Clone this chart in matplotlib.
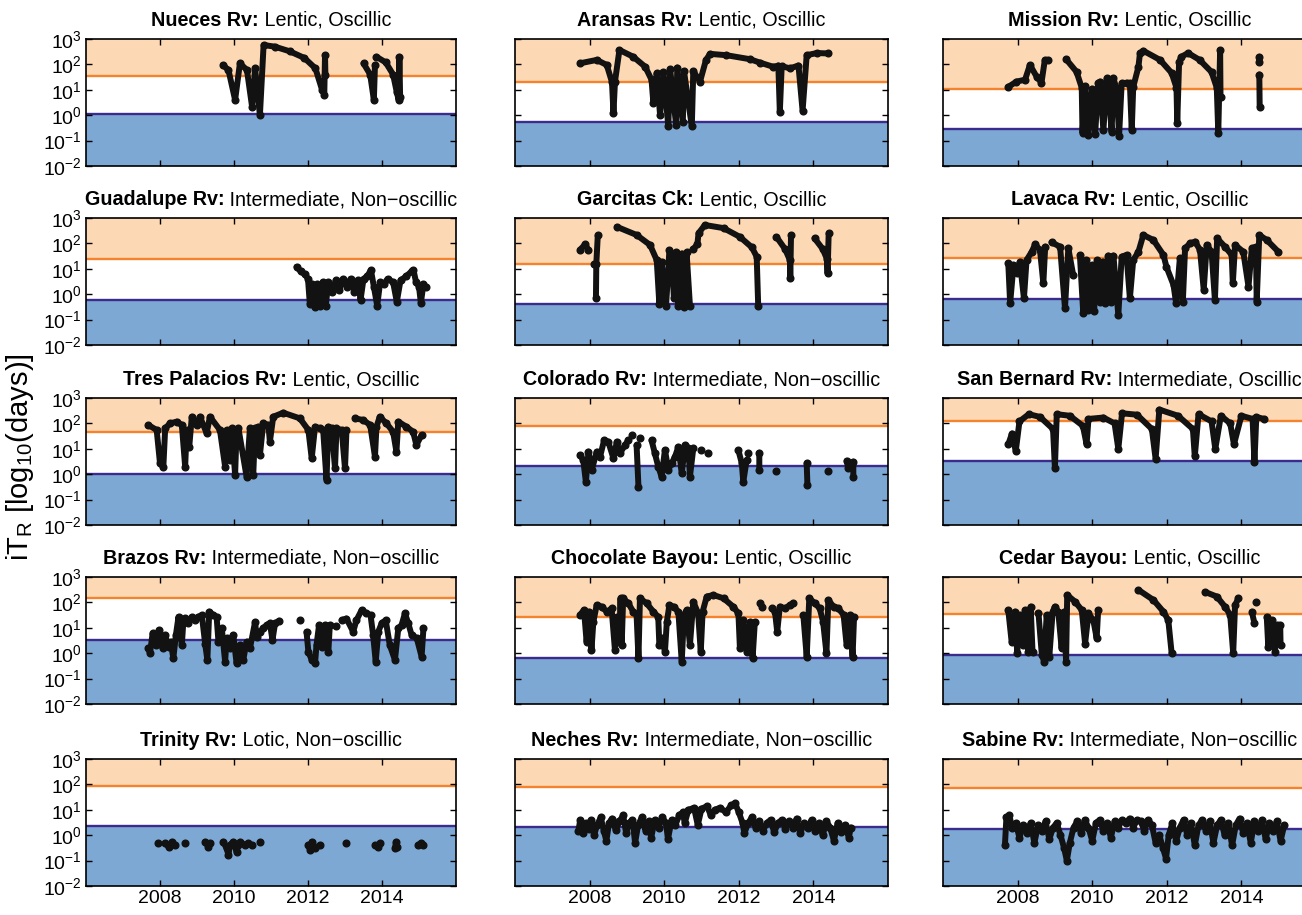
import numpy as np
import matplotlib
matplotlib.use('Agg')
import matplotlib.pyplot as plt
from matplotlib.transforms import offset_copy

plt.rcParams['font.family'] = 'Liberation Sans'
plt.rcParams['mathtext.fontset'] = 'custom'
plt.rcParams['mathtext.rm'] = 'Liberation Sans'
plt.rcParams['mathtext.it'] = 'Liberation Sans:italic'
plt.rcParams['mathtext.bf'] = 'Liberation Sans:bold'

nan = np.nan
GAP = (nan, nan)

# (year, iT_R in days)
nueces = [(2009.70, 95), (2009.85, 60), (2010.03, 4), (2010.16, 110), (2010.35, 60), (2010.49, 2.1),
          (2010.57, 70), (2010.70, 1.0), (2010.80, 580), (2011.10, 500), (2011.50, 330), (2011.90, 180),
          (2012.20, 70), (2012.38, 10), (2012.44, 6.5), (2012.46, 230), (2012.47, 40), GAP,
          (2013.50, 110), (2013.68, 40), (2013.78, 4), (2013.81, 95), GAP,
          (2013.85, 200), (2014.10, 120), (2014.30, 40), (2014.40, 8), (2014.45, 4), (2014.47, 200), (2014.49, 5)]

aransas = [(2007.74, 110), (2008.19, 150), (2008.46, 95), (2008.60, 20), (2008.64, 1.2), (2008.68, 21),
           (2008.80, 370), (2009.17, 200), (2009.49, 81), (2009.66, 25), (2009.71, 3), (2009.80, 46),
           (2009.89, 1), (2009.98, 50), (2010.11, 0.36), (2010.16, 64), (2010.32, 0.4), (2010.35, 75),
           (2010.50, 0.56), (2010.53, 55), (2010.74, 0.36), (2010.78, 55), (2010.96, 21), (2011.12, 150),
           (2011.23, 260), (2011.67, 230), (2012.30, 160), (2012.57, 117), (2012.93, 80), (2013.06, 90),
           (2013.10, 1.35), (2013.15, 85), (2013.37, 70), (2013.60, 90), (2013.71, 1.5), (2013.82, 230),
           (2014.09, 280), (2014.40, 270)]

mission = [(2007.75, 13), (2007.97, 21), (2008.20, 25), (2008.33, 95), (2008.51, 33), (2008.64, 19),
           (2008.73, 150), (2008.82, 150), GAP,
           (2009.30, 160), (2009.58, 51), (2009.72, 12), (2009.74, 0.2), (2009.81, 14), (2009.90, 0.17),
           (2009.99, 11), (2010.08, 0.19), (2010.16, 18), (2010.21, 21), (2010.30, 0.25), (2010.39, 28),
           (2010.43, 18), (2010.52, 0.22), (2010.57, 28), (2010.66, 10), (2010.72, 0.15), (2010.79, 18),
           (2010.92, 19), (2011.01, 18), (2011.06, 0.25), (2011.10, 13), (2011.24, 81), (2011.28, 275),
           (2011.37, 345), (2011.82, 150), (2012.13, 46), (2012.26, 12), (2012.28, 0.5), (2012.33, 125),
           (2012.39, 200), (2012.57, 280), (2012.88, 150), (2013.20, 50), (2013.34, 12), (2013.38, 0.2),
           (2013.43, 370), (2013.44, 5), GAP,
           (2014.48, 200), (2014.48, 120), GAP, (2014.48, 40), (2014.49, 2.2)]

guadalupe = [(2011.69, 12), (2011.80, 8), (2011.92, 6), (2012.00, 4), (2012.05, 0.4), (2012.10, 2.5),
             (2012.18, 0.3), (2012.25, 2.5), (2012.32, 0.35), (2012.40, 3), (2012.48, 0.35), (2012.55, 3),
             (2012.65, 1.2), (2012.75, 3.5), (2012.85, 1.5), (2012.95, 4), (2013.05, 2), (2013.15, 4),
             (2013.25, 1.2), (2013.35, 3.5), (2013.42, 0.6), (2013.50, 4), (2013.60, 5), (2013.70, 9),
             (2013.78, 2), (2013.87, 0.35), (2013.95, 3), (2014.05, 2.5), (2014.15, 4), (2014.30, 3),
             (2014.40, 0.5), (2014.50, 3.5), (2014.65, 5), (2014.80, 8), (2014.85, 9), (2014.92, 3),
             (2015.00, 2), (2015.05, 0.45), (2015.12, 2.5), (2015.18, 2)]

garcitas = [(2007.74, 55), (2007.88, 92), (2007.97, 55), GAP,
            (2008.12, 16), GAP, (2008.22, 210), (2008.18, 16), (2008.17, 0.7), GAP,
            (2008.73, 450), (2009.26, 215), (2009.62, 87), (2009.80, 22), (2009.87, 0.4), (2009.93, 19),
            (2010.05, 0.35), (2010.14, 55), (2010.20, 30), (2010.26, 0.69), (2010.32, 45), (2010.38, 0.35),
            (2010.47, 40), (2010.53, 0.3), (2010.60, 45), (2010.69, 0.35), GAP,
            (2010.78, 60), (2010.89, 92), (2010.92, 250), (2011.09, 530), (2011.59, 400), (2012.03, 180),
            (2012.35, 70), (2012.48, 30), (2012.52, 0.35), GAP,
            (2013.01, 180), (2013.24, 60), (2013.37, 22), (2013.38, 4.2), (2013.40, 215), GAP,
            (2014.03, 160), (2014.25, 60), (2014.36, 25), (2014.38, 6.6), (2014.41, 250)]

lavaca = [(2007.75, 16.5), (2007.80, 0.44), (2007.89, 14), (2007.98, 6.6), (2008.06, 19), (2008.17, 0.69),
          (2008.24, 22), (2008.38, 47), (2008.47, 92), (2008.60, 55), (2008.69, 2.7), (2008.74, 74), GAP,
          (2008.91, 110), (2009.14, 74), (2009.27, 0.28), (2009.36, 64), (2009.49, 5.7), GAP,
          (2009.67, 35), (2009.76, 0.18), (2009.83, 22), (2009.90, 0.24), (2009.99, 14), (2010.05, 0.21),
          (2010.14, 22), (2010.21, 0.51), (2010.28, 19), (2010.34, 0.44), (2010.43, 33), (2010.50, 0.51),
          (2010.57, 33), (2010.70, 0.15), (2010.79, 30), (2010.92, 35), (2011.01, 0.69), (2011.10, 22),
          (2011.24, 47), (2011.37, 214), (2011.64, 136), (2011.91, 35), (2011.99, 12), (2012.18, 2.3),
          (2012.25, 0.44), (2012.35, 26), (2012.43, 0.51), (2012.49, 64), (2012.62, 100), (2012.76, 117),
          (2012.89, 55), (2012.99, 1.5), (2013.07, 87), (2013.20, 47), (2013.29, 0.59), (2013.35, 158),
          (2013.56, 74), (2013.74, 35), (2013.77, 2.7), (2013.83, 87), (2014.05, 47), (2014.19, 2.0),
          (2014.28, 64), (2014.39, 74), (2014.41, 0.5), (2014.48, 214), (2014.68, 136), (2014.99, 47)]

tres_palacios = [(2007.68, 87), (2007.91, 55), (2008.00, 2.7), (2008.09, 1.9), (2008.14, 64), (2008.27, 100),
                 (2008.45, 117), (2008.59, 87), (2008.68, 2.0), (2008.72, 55), (2008.79, 12), (2008.86, 183),
                 (2008.99, 87), (2009.08, 183), (2009.26, 41), (2009.35, 183), (2009.62, 55), (2009.76, 2.0),
                 (2009.80, 55), (2009.89, 3.6), (2009.94, 64), (2010.03, 0.93), (2010.07, 55), (2010.12, 64),
                 (2010.34, 0.8), (2010.43, 64), (2010.52, 0.93), (2010.57, 64), (2010.66, 74), (2010.70, 5.7),
                 (2010.79, 100), (2010.93, 87), (2010.97, 19), (2011.06, 183), (2011.33, 263), (2011.78, 158),
                 (2012.01, 55), (2012.10, 4.2), (2012.19, 74), (2012.32, 64), (2012.41, 55), (2012.50, 0.6),
                 (2012.55, 74), (2012.64, 64), (2012.73, 1.7), (2012.77, 64), (2012.91, 55), (2013.00, 1.7),
                 (2013.04, 55), GAP,
                 (2013.27, 158), (2013.49, 136), (2013.68, 87), (2013.81, 4.9), (2013.85, 74), (2013.94, 183),
                 (2014.12, 100), (2014.30, 47), (2014.39, 7.7), (2014.44, 117), (2014.66, 74), (2014.84, 47),
                 (2014.93, 14), (2015.07, 35)]

colorado = [(2007.74, 5.7), (2007.83, 3.6), (2007.90, 0.5), (2007.97, 7.7), (2008.06, 1.5), (2008.19, 7.7),
            (2008.28, 4.9), (2008.39, 22), (2008.50, 19), (2008.64, 4.2), (2008.73, 19), (2008.81, 6.6),
            (2008.95, 14), (2009.04, 22), GAP, (2009.15, 35), GAP, (2009.26, 14), (2009.31, 0.32), GAP,
            (2009.35, 26), GAP,
            (2009.66, 22), (2009.75, 6.6), (2009.84, 2.0), (2009.93, 0.8), (2010.02, 9), (2010.11, 1.5),
            (2010.20, 2.7), (2010.29, 4.9), (2010.38, 12), (2010.47, 1.07), (2010.56, 14), (2010.65, 10.5),
            (2010.69, 0.8), (2010.78, 10.5), GAP, (2011.00, 9), GAP, (2011.18, 7), GAP,
            (2011.99, 8.6), (2012.08, 2.7), (2012.12, 0.5), (2012.21, 3.6), GAP, (2012.26, 7), GAP,
            (2012.55, 7), (2012.55, 1.5), GAP, (2013.01, 1.3), GAP, (2013.82, 2.7), (2013.84, 0.37), GAP,
            (2014.40, 1.3), GAP, (2014.89, 3.4), (2014.94, 1.7), (2015.07, 3.1), (2015.07, 0.8)]

san_bernard = [(2007.75, 15), (2007.85, 40), (2007.95, 8), (2008.05, 120), (2008.30, 230), (2008.60, 180),
               (2008.95, 60), (2009.00, 1.8), (2009.05, 230), (2009.40, 200), (2009.75, 80), (2009.85, 15),
               (2009.90, 150), (2010.30, 170), (2010.60, 100), (2010.70, 10), (2010.80, 250), (2011.20, 220),
               (2011.60, 60), (2011.70, 4), (2011.80, 350), (2012.30, 200), (2012.70, 60), (2012.75, 5),
               (2012.85, 230), (2013.20, 120), (2013.30, 10), (2013.45, 200), (2013.70, 100), (2013.80, 15),
               (2014.00, 200), (2014.30, 150), (2014.35, 3), (2014.40, 180), (2014.60, 150)]

brazos = [(2007.68, 1.55), (2007.73, 1.0), (2007.80, 6), (2007.89, 2.1), (2007.98, 8.2), (2008.07, 1.55),
          (2008.14, 5.2), (2008.23, 1.8), (2008.29, 2.8), (2008.36, 0.63), (2008.43, 5.2), (2008.50, 27),
          (2008.59, 2.1), (2008.63, 17), (2008.68, 24), (2008.77, 15), (2008.86, 27), (2008.95, 20),
          (2009.04, 27), (2009.13, 32), (2009.22, 2.4), (2009.28, 0.54), (2009.33, 43), (2009.44, 32),
          (2009.53, 27), (2009.58, 2.8), (2009.67, 9.5), (2009.76, 0.47), (2009.80, 3.9), (2009.89, 1.55),
          (2009.98, 5.2), (2010.07, 0.4), (2010.16, 2.1), (2010.25, 0.54), (2010.34, 2.8), (2010.43, 1.55),
          (2010.57, 17), (2010.61, 4.5), (2010.70, 7), (2010.79, 9.5), (2010.88, 13), (2010.97, 15),
          (2011.04, 3.3), (2011.11, 15), (2011.22, 19), GAP, (2011.78, 20), GAP,
          (2011.96, 7), (2012.01, 1.15), (2012.10, 0.54), (2012.19, 0.4), (2012.23, 2.1), (2012.30, 13),
          (2012.37, 1.8), (2012.46, 13), (2012.55, 1.15), (2012.59, 13), GAP, (2012.77, 12), GAP,
          (2012.91, 20), (2013.04, 23), (2013.22, 7), (2013.31, 20), (2013.45, 50), (2013.58, 37),
          (2013.69, 32), (2013.76, 5.2), (2013.83, 0.47), (2013.90, 7), (2013.99, 15), (2014.10, 20),
          (2014.21, 2.1), (2014.35, 0.54), (2014.44, 9.5), (2014.53, 13), (2014.62, 37), (2014.71, 15),
          (2014.80, 5.2), (2014.94, 3.9), (2015.07, 0.73), (2015.12, 9.5)]

chocolate = [(2007.74, 32), (2007.85, 50), (2007.92, 2.8), (2007.99, 43), (2008.05, 1.3), (2008.10, 17),
             (2008.19, 79), (2008.32, 68), (2008.46, 43), (2008.59, 58), (2008.68, 1.3), (2008.73, 27),
             (2008.80, 2.8), (2008.83, 145), (2008.86, 2.1), (2008.90, 145), (2009.04, 92), (2009.17, 43),
             (2009.26, 32), (2009.31, 0.63), (2009.35, 145), (2009.53, 92), (2009.71, 43), (2009.84, 27),
             (2009.87, 2.1), (2009.93, 3.9), (2010.02, 1.15), (2010.07, 17), (2010.14, 79), (2010.25, 68),
             (2010.38, 43), (2010.47, 0.47), (2010.53, 32), (2010.60, 50), (2010.69, 2.1), (2010.78, 107),
             (2010.91, 37), (2010.98, 1.15), (2011.03, 43), (2011.14, 170), (2011.32, 195), (2011.59, 145),
             (2011.85, 68), (2011.99, 37), (2012.03, 1.55), (2012.12, 20), (2012.21, 1.15), (2012.30, 17),
             (2012.37, 0.63), (2012.43, 17), GAP, (2012.57, 92), GAP, (2012.61, 68), GAP,
             (2012.88, 58), (2012.97, 43), (2013.03, 7), (2013.10, 68), (2013.24, 58), (2013.37, 79),
             (2013.46, 92), GAP,
             (2013.73, 32), (2013.82, 0.73), (2013.89, 145), (2014.04, 92), (2014.17, 58), (2014.26, 17),
             (2014.35, 1.0), (2014.40, 125), (2014.54, 68), (2014.67, 58), (2014.81, 32), (2014.89, 2.1),
             (2014.98, 32), (2015.05, 0.73), (2015.09, 27)]

cedar = [(2007.75, 50), (2007.84, 2.8), (2007.93, 43), (2007.99, 1.0), (2008.06, 32), (2008.14, 2.1),
         (2008.20, 50), (2008.29, 1.15), (2008.35, 68), (2008.40, 1.15), GAP,
         (2008.56, 37), (2008.65, 0.85), (2008.71, 0.47), (2008.78, 32), (2008.85, 0.73), (2008.94, 43),
         (2009.00, 68), (2009.09, 43), (2009.18, 1.55), (2009.24, 43), (2009.30, 0.47), (2009.33, 195),
         (2009.54, 107), (2009.72, 50), (2009.81, 2.4), (2009.90, 37), (2010.03, 20), (2010.12, 3.9),
         (2010.16, 50), GAP,
         (2011.24, 310), (2011.64, 125), (2011.91, 43), (2012.04, 20), (2012.13, 1.0), GAP,
         (2013.02, 260), (2013.34, 170), (2013.56, 68), (2013.70, 32), (2013.78, 1.0), (2013.83, 79),
         (2013.92, 145), GAP, (2014.28, 43), (2014.35, 15), GAP, (2014.39, 107), GAP,
         (2014.68, 27), (2014.72, 1.8), (2014.81, 20), (2014.90, 1.15), (2014.95, 13), (2015.04, 13),
         (2015.05, 2.1)]

trinity = [(2007.95, 0.48), GAP, (2008.14, 0.48), (2008.23, 0.35), (2008.32, 0.55), (2008.41, 0.41), GAP,
           (2008.68, 0.48), GAP, (2009.22, 0.55), (2009.31, 0.35), (2009.35, 0.48), GAP,
           (2009.71, 0.55), (2009.80, 0.3), (2009.85, 0.17), (2009.89, 0.41), (2009.98, 0.55), (2010.07, 0.22),
           (2010.12, 0.41), (2010.16, 0.55), (2010.30, 0.41), (2010.39, 0.48), (2010.48, 0.41), GAP,
           (2010.70, 0.55), GAP, (2012.01, 0.41), (2012.06, 0.25), (2012.10, 0.55), (2012.19, 0.3),
           (2012.32, 0.41), GAP, (2013.04, 0.48), GAP, (2013.81, 0.41), (2013.88, 0.35), (2013.94, 0.48), GAP,
           (2014.35, 0.3), (2014.38, 0.55), (2014.40, 0.35), GAP, (2014.98, 0.41), (2015.05, 0.48),
           (2015.12, 0.41)]

neches = [(2007.70, 1.5), (2007.75, 4), (2007.82, 1.2), (2007.90, 3), (2007.98, 1.8), (2008.05, 4),
          (2008.12, 1.0), (2008.20, 2.5), (2008.30, 5), (2008.38, 1.5), (2008.45, 0.6), (2008.52, 3),
          (2008.60, 4.5), (2008.70, 1.6), (2008.80, 3.5), (2008.90, 6), (2008.98, 1.2), (2009.05, 3),
          (2009.15, 4), (2009.22, 0.5), (2009.30, 2.5), (2009.40, 5), (2009.50, 1.5), (2009.58, 3.5),
          (2009.65, 0.8), (2009.75, 4), (2009.85, 2), (2009.95, 5), (2010.05, 3), (2010.10, 0.7),
          (2010.20, 4), (2010.30, 2.5), (2010.40, 6), (2010.50, 8), (2010.55, 3), (2010.65, 10),
          (2010.80, 12), (2010.90, 2.5), (2011.00, 11), (2011.15, 14), (2011.25, 6), (2011.35, 10),
          (2011.50, 12), (2011.65, 8), (2011.80, 15), (2011.90, 18), (2012.00, 8), (2012.10, 3),
          (2012.15, 1.2), (2012.25, 3), (2012.35, 5), (2012.45, 2), (2012.55, 3.5), (2012.65, 1.5),
          (2012.75, 3), (2012.85, 4), (2012.95, 1.3), (2013.05, 3), (2013.15, 4), (2013.25, 1.8),
          (2013.35, 3.5), (2013.45, 2), (2013.55, 4.5), (2013.65, 1.2), (2013.75, 3), (2013.85, 2),
          (2013.95, 4), (2014.05, 1.5), (2014.15, 3), (2014.25, 1.0), (2014.35, 3.5), (2014.45, 2),
          (2014.55, 0.6), (2014.65, 3), (2014.75, 1.3), (2014.85, 2.5), (2014.95, 0.8), (2015.00, 2)]

sabine = [(2007.66, 0.4), (2007.70, 5), (2007.78, 6), (2007.85, 2), (2007.95, 3), (2008.05, 0.8),
          (2008.15, 2.5), (2008.25, 1.2), (2008.35, 3), (2008.45, 0.5), (2008.55, 2.5), (2008.65, 1.5),
          (2008.75, 3.5), (2008.85, 0.7), (2008.95, 2), (2009.05, 3), (2009.15, 1), (2009.25, 0.3),
          (2009.32, 0.1), (2009.40, 0.5), (2009.50, 2), (2009.60, 3.5), (2009.70, 1.2), (2009.80, 4),
          (2009.90, 2), (2010.00, 0.6), (2010.10, 3), (2010.20, 4), (2010.30, 1.5), (2010.40, 3),
          (2010.50, 0.8), (2010.60, 3.5), (2010.70, 2), (2010.80, 4), (2010.90, 3), (2011.00, 4.5),
          (2011.10, 2), (2011.20, 4), (2011.30, 3.5), (2011.40, 1.5), (2011.50, 4), (2011.60, 2.5),
          (2011.70, 0.5), (2011.80, 1), (2011.90, 0.3), (2011.98, 0.12), (2012.05, 1), (2012.15, 3),
          (2012.25, 0.6), (2012.35, 2), (2012.45, 4), (2012.55, 1), (2012.65, 3), (2012.75, 0.4),
          (2012.85, 2.5), (2012.95, 4), (2013.05, 1.5), (2013.15, 3.5), (2013.25, 0.5), (2013.35, 2.5),
          (2013.45, 4), (2013.55, 1), (2013.65, 3), (2013.75, 0.4), (2013.85, 2.5), (2013.95, 4.5),
          (2014.05, 1.2), (2014.15, 3), (2014.25, 0.5), (2014.35, 3.5), (2014.45, 1.5), (2014.55, 4),
          (2014.65, 0.7), (2014.75, 3), (2014.85, 1.5), (2014.95, 3.5), (2015.05, 0.6), (2015.15, 2.5)]

names = ['Nueces Rv:', 'Aransas Rv:', 'Mission Rv:',
         'Guadalupe Rv:', 'Garcitas Ck:', 'Lavaca Rv:',
         'Tres Palacios Rv:', 'Colorado Rv:', 'San Bernard Rv:',
         'Brazos Rv:', 'Chocolate Bayou:', 'Cedar Bayou:',
         'Trinity Rv:', 'Neches Rv:', 'Sabine Rv:']
kinds = ['Lentic, Oscillic', 'Lentic, Oscillic', 'Lentic, Oscillic',
         'Intermediate, Non\u2212oscillic', 'Lentic, Oscillic', 'Lentic, Oscillic',
         'Lentic, Oscillic', 'Intermediate, Non\u2212oscillic', 'Intermediate, Oscillic',
         'Intermediate, Non\u2212oscillic', 'Lentic, Oscillic', 'Lentic, Oscillic',
         'Lotic, Non\u2212oscillic', 'Intermediate, Non\u2212oscillic', 'Intermediate, Non\u2212oscillic']
upper = [35, 20, 11, 25, 16, 27, 45, 79, 130, 145, 27, 35, 87, 82, 75]
lower = [1.15, 0.54, 0.29, 0.61, 0.41, 0.63, 1.0, 2.1, 3.2, 3.4, 0.66, 0.87, 2.3, 2.2, 1.8]
series = [nueces, aransas, mission, guadalupe, garcitas, lavaca, tres_palacios, colorado,
          san_bernard, brazos, chocolate, cedar, trinity, neches, sabine]

PEACH = '#fdd8b5'
BLUE = '#7da8d3'
ORANGE = '#f5822d'
PURPLE = '#3a2b8c'
TITLE_SIZE = 14.2

fig = plt.figure(figsize=(13.02, 9.15), dpi=100)
W, H = 1302, 915
col_left = [86, 515, 943]
col_width = [370, 373, 373]
row_top = [39, 218, 398, 577, 759]
ax_h = 127
renderer = fig.canvas.get_renderer()

for i in range(15):
    r, c = divmod(i, 3)
    ax = fig.add_axes([col_left[c] / W, 1 - (row_top[r] + ax_h) / H, col_width[c] / W, ax_h / H])
    ax.set_yscale('log')
    ax.set_xlim(2006, 2016)
    ax.set_ylim(1e-2, 1e3)
    ax.axhspan(upper[i], 1e3, color=PEACH, lw=0, zorder=0)
    ax.axhspan(1e-2, lower[i], color=BLUE, lw=0, zorder=0)
    ax.axhline(upper[i], color=ORANGE, lw=1.7, zorder=1)
    ax.axhline(lower[i], color=PURPLE, lw=1.7, zorder=1)

    t, v = np.array(series[i], dtype=float).T
    ax.plot(t, v, '-o', color='#121212', lw=4.3, ms=4.8, zorder=3,
            solid_capstyle='round', solid_joinstyle='round')

    ax.set_xticks([2008, 2010, 2012, 2014])
    ax.set_yticks([1e-2, 1e-1, 1, 10, 100, 1000])
    ax.tick_params(which='both', direction='in', top=True, right=True, labelsize=14, pad=3)
    ax.tick_params(which='major', length=4.5, width=1)
    ax.tick_params(which='minor', length=2.5, width=0.7)
    ax.tick_params(labelleft=(c == 0), labelbottom=(r == 4))
    for s in ax.spines.values():
        s.set_linewidth(1.2)
        s.set_zorder(4)

    # title: bold river name followed by regular class text, centred over the panel
    tb = ax.text(0.5, 1, names[i], fontsize=TITLE_SIZE, fontweight='bold', transform=ax.transAxes)
    tr = ax.text(0.5, 1, ' ' + kinds[i], fontsize=TITLE_SIZE, transform=ax.transAxes)
    wb = tb.get_window_extent(renderer).width
    wr = tr.get_window_extent(renderer).width
    x0 = -(wb + wr) / 2
    tb.set_transform(offset_copy(ax.transAxes, fig=fig, x=x0, y=13, units='dots'))
    tr.set_transform(offset_copy(ax.transAxes, fig=fig, x=x0 + wb, y=13, units='dots'))

fig.text(0.015, 0.5, r'iT$_{\rm R}$ [log$_{10}$(days)]', rotation=90,
         va='center', ha='center', fontsize=21)

fig.savefig('out.png', dpi=100)
